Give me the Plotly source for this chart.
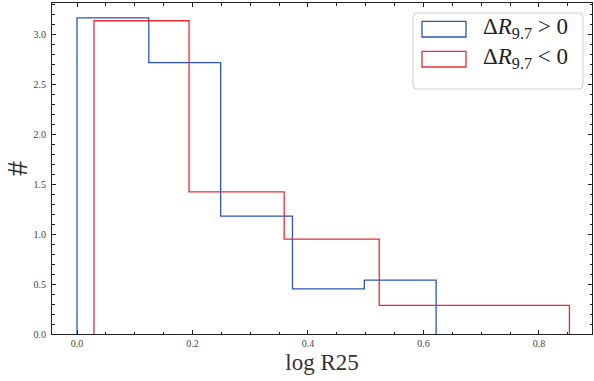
import plotly.graph_objects as go

# Histogram data (density)
blue_edges = [0.0, 0.1244, 0.2488, 0.3732, 0.4976, 0.622]
blue_heights = [3.167, 2.717, 1.18, 0.452, 0.54]
red_edges = [0.0294, 0.1941, 0.3588, 0.5235, 0.6882, 0.8529]
red_heights = [3.137, 1.423, 0.95, 0.287, 0.287]

blue_label = "Δ<i>R</i><sub>9.7</sub> &gt; 0"
red_label = "Δ<i>R</i><sub>9.7</sub> &lt; 0"
BLUE = "#2a56b0"
RED = "#ec2a34"

x_ticks = [0.0, 0.2, 0.4, 0.6, 0.8]
y_ticks = [0.0, 0.5, 1.0, 1.5, 2.0, 2.5, 3.0]


def step_xy(edges, heights):
    xs = [edges[0]] + list(edges)
    ys = [0] + list(heights) + [0]
    return xs, ys


fig = go.Figure()
for edges, heights, col in [(blue_edges, blue_heights, BLUE), (red_edges, red_heights, RED)]:
    xs, ys = step_xy(edges, heights)
    fig.add_trace(go.Scatter(x=xs, y=ys, mode="lines", line=dict(color=col, width=1.3, shape="hv"),
                             showlegend=False, hoverinfo="skip"))

FONT = "Liberation Serif"
axis_common = dict(
    showgrid=False, zeroline=False, showline=True, linecolor="#222", linewidth=1,
    mirror="ticks", ticks="inside", ticklen=4, tickcolor="#222", tickwidth=1,
    tickfont=dict(family=FONT, size=10, color="#444"),
)
fig.update_xaxes(range=[-0.0433, 0.892], tickvals=x_ticks, ticktext=[f"{v:.1f}" for v in x_ticks],
                 minor=dict(ticks="inside", dtick=0.05, tick0=0, ticklen=2.5, tickcolor="#222"),
                 title=dict(text="log R25", font=dict(family=FONT, size=23, color="#333"), standoff=5),
                 **axis_common)
fig.update_yaxes(range=[0, 3.315], tickvals=y_ticks, ticktext=[f"{v:.1f}" for v in y_ticks],
                 minor=dict(ticks="inside", dtick=0.1, tick0=0, ticklen=2.5, tickcolor="#222"),
                 title=dict(text="#", font=dict(family=FONT, size=30, color="#333"), standoff=6),
                 ticklabelstandoff=3,
                 **axis_common)

# Manual legend (matplotlib style)
W, H = 540.0, 331.0
def px(x):
    return (x - 52) / W
def py(y):
    return 1 - (y - 3) / H

x0, x1, y0, y1, r = 413, 583, 13, 89, 4
path = (f"M {px(x0+r)},{py(y0)} L {px(x1-r)},{py(y0)} Q {px(x1)},{py(y0)} {px(x1)},{py(y0+r)} "
        f"L {px(x1)},{py(y1-r)} Q {px(x1)},{py(y1)} {px(x1-r)},{py(y1)} "
        f"L {px(x0+r)},{py(y1)} Q {px(x0)},{py(y1)} {px(x0)},{py(y1-r)} "
        f"L {px(x0)},{py(y0+r)} Q {px(x0)},{py(y0)} {px(x0+r)},{py(y0)} Z")
shapes = [dict(type="path", xref="paper", yref="paper", path=path,
               line=dict(color="#d0d0d0", width=1), fillcolor="rgba(255,255,255,0.8)")]
annotations = []
for (ya, yb, col, lab) in [(21.3, 37, BLUE, blue_label), (51.3, 67, RED, red_label)]:
    shapes.append(dict(type="rect", xref="paper", yref="paper", x0=px(422), x1=px(466),
                       y0=py(yb), y1=py(ya), line=dict(color=col, width=1.3), fillcolor="rgba(0,0,0,0)"))
    annotations.append(dict(xref="paper", yref="paper", x=px(481), y=py((ya + yb) / 2 - 1),
                            xanchor="left", yanchor="middle", showarrow=False, text=lab,
                            font=dict(family=FONT, size=23, color="#222")))

fig.update_layout(
    width=594, height=381, margin=dict(l=52, r=2, t=3, b=47),
    paper_bgcolor="white", plot_bgcolor="white",
    shapes=shapes, annotations=annotations, showlegend=False,
)
fig.write_html("out.html")
